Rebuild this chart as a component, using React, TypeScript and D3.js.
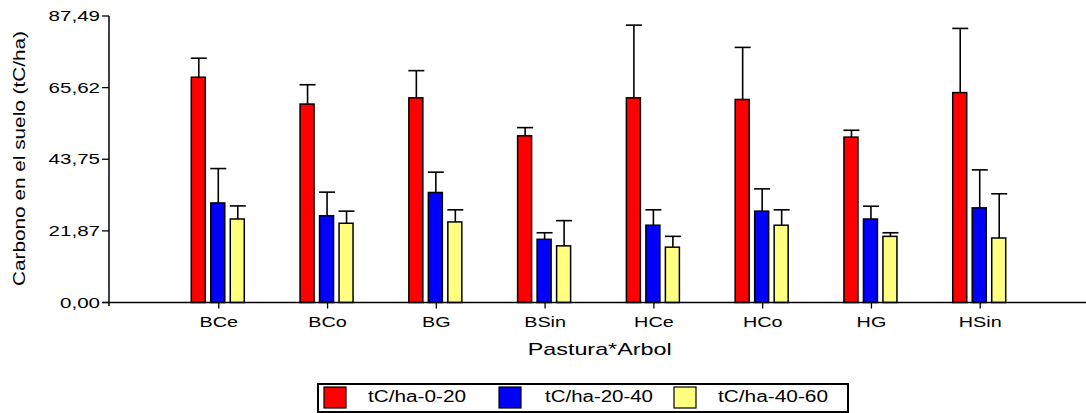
import React from "react";
import * as d3 from "d3";

const categories = ["BCe", "BCo", "BG", "BSin", "HCe", "HCo", "HG", "HSin"];
const seriesNames = ["tC/ha-0-20", "tC/ha-20-40", "tC/ha-40-60"];
const mean0to20 = [68.8, 60.6, 62.5, 50.9, 62.5, 62.0, 50.5, 64.1];
const err0to20 = [5.8, 5.9, 8.3, 2.5, 22.2, 15.9, 2.1, 19.6];
const mean20to40 = [30.4, 26.5, 33.6, 19.3, 23.6, 27.9, 25.5, 28.9];
const err20to40 = [10.5, 7.2, 6.2, 2.0, 4.7, 6.8, 3.9, 11.6];
const mean40to60 = [25.5, 24.2, 24.6, 17.3, 16.9, 23.6, 20.2, 19.7];
const err40to60 = [4.0, 3.7, 3.7, 7.7, 3.3, 4.7, 1.1, 13.5];
const yTicks = [0, 21.87, 43.75, 65.62, 87.49];
const colors = ["#FF0000", "#0000FF", "#FFFF80"];

const means = [mean0to20, mean20to40, mean40to60];
const errs = [err0to20, err20to40, err40to60];

const W = 1086;
const H = 413;
const FONT = "'Liberation Sans', Arial, sans-serif";

export default function App() {
  const x = d3.scaleLinear().domain([0, categories.length + 1]).range([110, 1089]);
  const y = d3.scaleLinear().domain([0, 87.49]).range([302.5, 16]);
  const inner = d3
    .scaleBand<string>()
    .domain(seriesNames)
    .range([-27.5, 25.5])
    .paddingInner(0.282)
    .paddingOuter(0);
  const bw = inner.bandwidth();
  const fmt = (v: number) => v.toFixed(2).replace(".", ",");
  const legendItems = [
    { sx: 324, tx: 368, tl: 98 },
    { sx: 499, tx: 545, tl: 108 },
    { sx: 674, tx: 718, tl: 110 },
  ];

  return (
    <svg
      width={W}
      height={H}
      style={{ position: "absolute", left: 0, top: 0, background: "#fff" }}
      fontFamily={FONT}
    >
      {/* bars */}
      {seriesNames.map((s, si) =>
        categories.map((c, ci) => {
          const cx = x(ci + 1);
          const left = cx + (inner(s) as number);
          const mid = left + bw / 2 + 0.5;
          const v = means[si][ci];
          const top = v + errs[si][ci];
          return (
            <g key={s + c}>
              <line x1={mid} x2={mid} y1={y(v)} y2={y(top)} stroke="#000" strokeWidth={1.6} />
              <line x1={mid - 8} x2={mid + 8} y1={y(top)} y2={y(top)} stroke="#000" strokeWidth={1.6} />
              <rect
                x={left}
                y={y(v)}
                width={bw}
                height={y(0) - y(v)}
                fill={colors[si]}
                stroke="#000"
                strokeWidth={1.5}
              />
            </g>
          );
        })
      )}
      {/* axes */}
      <line x1={109} x2={109} y1={16} y2={306} stroke="#000" strokeWidth={1.5} />
      <line x1={102} x2={W} y1={y(0)} y2={y(0)} stroke="#000" strokeWidth={1.5} />
      {yTicks.map((t) => (
        <g key={t}>
          <line x1={102} x2={109} y1={y(t)} y2={y(t)} stroke="#000" strokeWidth={1.3} />
          <text
            transform={`translate(100,${y(t) + 5}) scale(1.37,1)`}
            textAnchor="end"
            fontSize={15}
            fill="#000"
          >
            {fmt(t)}
          </text>
        </g>
      ))}
      {categories.map((c, ci) => (
        <g key={c}>
          <line x1={x(ci + 1)} x2={x(ci + 1)} y1={y(0)} y2={y(0) + 6} stroke="#000" strokeWidth={1.3} />
          <text
            transform={`translate(${x(ci + 1)},327) scale(1.32,1)`}
            textAnchor="middle"
            fontSize={15}
            fill="#000"
          >
            {c}
          </text>
        </g>
      ))}
      <text
        x={599.7}
        y={355}
        textAnchor="middle"
        fontSize={17}
        textLength={144}
        lengthAdjust="spacingAndGlyphs"
        fill="#000"
      >
        Pastura*Arbol
      </text>
      <text
        transform="translate(25,158.5) rotate(-90)"
        textAnchor="middle"
        fontSize={17}
        textLength={255}
        lengthAdjust="spacingAndGlyphs"
        fill="#000"
      >
        Carbono en el suelo (tC/ha)
      </text>
      {/* legend */}
      <rect x={318} y={384} width={530} height={28} fill="#fff" stroke="#000" strokeWidth={2} />
      {seriesNames.map((s, si) => (
        <g key={s}>
          <rect
            x={legendItems[si].sx}
            y={387}
            width={22}
            height={21}
            fill={colors[si]}
            stroke="#000"
            strokeWidth={1.2}
          />
          <text
            x={legendItems[si].tx}
            y={402}
            fontSize={16}
            textLength={legendItems[si].tl}
            lengthAdjust="spacingAndGlyphs"
            fill="#000"
          >
            {s}
          </text>
        </g>
      ))}
    </svg>
  );
}
